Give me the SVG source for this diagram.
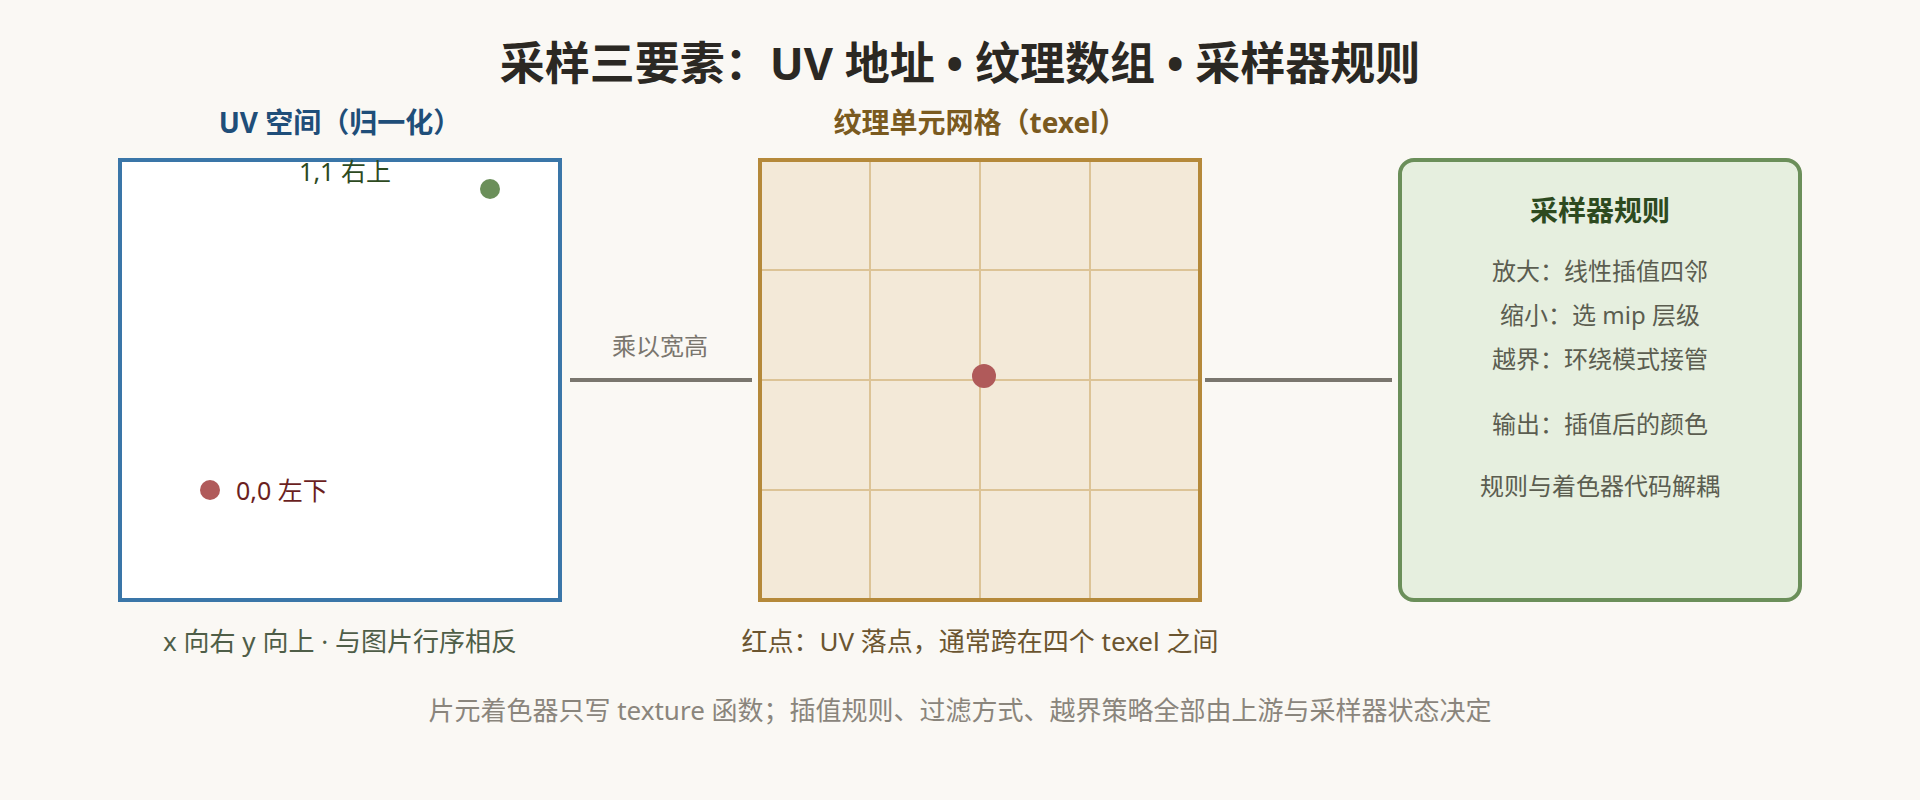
<svg xmlns="http://www.w3.org/2000/svg" width="1920" height="800" viewBox="0 0 1920 800">
<style>
text{font-family:"Noto Sans","Noto Sans CJK SC",sans-serif;}
.title{font-size:45px;font-weight:700;fill:#2b2823;text-anchor:middle;}
.head{font-size:28px;font-weight:700;text-anchor:middle;}
.cap{font-size:26px;text-anchor:middle;}
.rule{font-size:24px;fill:#5b5d50;text-anchor:middle;}
.grid{stroke:#dcc396;stroke-width:2;}
.conn{stroke:#7a766e;stroke-width:4;fill:none;}
</style>
<rect x="0" y="0" width="1920" height="800" fill="#faf8f4"/>
<text class="title" x="960" y="80">采样三要素：UV 地址 • 纹理数组 • 采样器规则</text>

<g id="uv-space">
<text class="head" x="340" y="133" fill="#1f4e79">UV 空间（归一化）</text>
<rect x="120" y="160" width="440" height="440" fill="#ffffff" stroke="#3a76a8" stroke-width="4"/>
<text x="345" y="181" font-size="25" fill="#2d4a1f" text-anchor="middle">1,1 右上</text>
<circle cx="490" cy="189" r="10" fill="#6b8f5a"/>
<circle cx="210" cy="490" r="10" fill="#b05a5a"/>
<text x="236" y="500" font-size="25" fill="#6b1f1f">0,0 左下</text>
<text class="cap" x="340" y="651" fill="#4f5e48">x 向右 y 向上 · 与图片行序相反</text>
</g>

<g id="texel-grid">
<text class="head" x="980" y="133" fill="#7a5a1f">纹理单元网格（texel）</text>
<rect x="760" y="160" width="440" height="440" fill="#f3e9d8"/>
<line class="grid" x1="870" y1="162" x2="870" y2="598"/>
<line class="grid" x1="980" y1="162" x2="980" y2="598"/>
<line class="grid" x1="1090" y1="162" x2="1090" y2="598"/>
<line class="grid" x1="762" y1="270" x2="1198" y2="270"/>
<line class="grid" x1="762" y1="380" x2="1198" y2="380"/>
<line class="grid" x1="762" y1="490" x2="1198" y2="490"/>
<rect x="760" y="160" width="440" height="440" fill="none" stroke="#b5893a" stroke-width="4"/>
<circle cx="984" cy="376" r="12" fill="#b05a5a"/>
<text class="cap" x="980" y="651" fill="#6b5530">红点：UV 落点，通常跨在四个 texel 之间</text>
</g>

<g id="sampler-rules">
<rect x="1400" y="160" width="400" height="440" rx="14" fill="#e6efdf" stroke="#6b8f5a" stroke-width="4"/>
<text class="head" x="1600" y="221" fill="#2d4a1f">采样器规则</text>
<text class="rule" x="1600" y="280">放大：线性插值四邻</text>
<text class="rule" x="1600" y="324">缩小：选 mip 层级</text>
<text class="rule" x="1600" y="368">越界：环绕模式接管</text>
<text class="rule" x="1600" y="433">输出：插值后的颜色</text>
<text class="rule" x="1600" y="495">规则与着色器代码解耦</text>
</g>

<g id="connectors">
<line class="conn" x1="570" y1="380" x2="752" y2="380"/>
<text x="660" y="355" font-size="24" fill="#7a766e" text-anchor="middle">乘以宽高</text>
<line class="conn" x1="1205" y1="380" x2="1392" y2="380"/>
</g>

<text class="cap" x="960" y="720" fill="#8a857c">片元着色器只写 texture 函数；插值规则、过滤方式、越界策略全部由上游与采样器状态决定</text>
</svg>
